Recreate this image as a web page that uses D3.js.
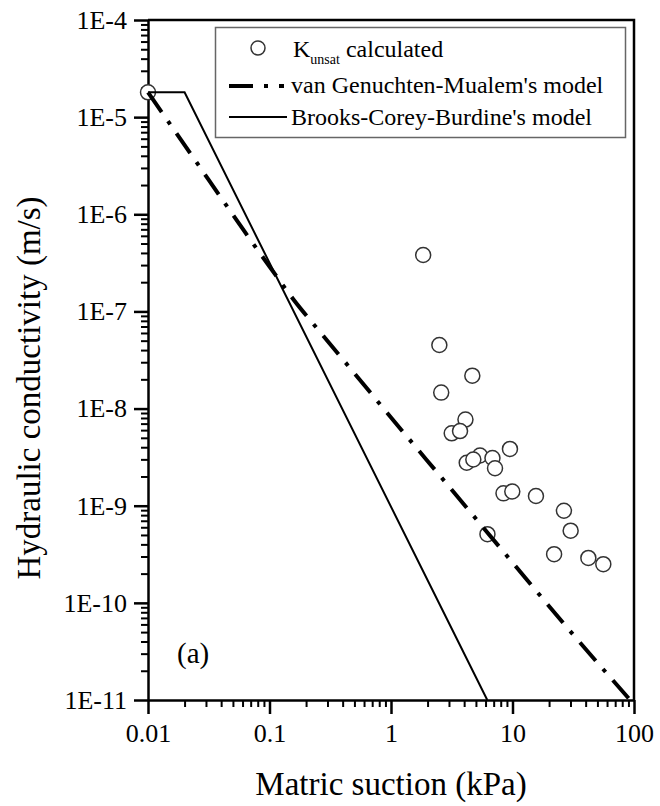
<!DOCTYPE html>
<html>
<head>
<meta charset="utf-8">
<script src="https://cdn.jsdelivr.net/npm/d3@7/dist/d3.min.js"></script>
<style>
  body{margin:0;background:#fff;}
  svg text{font-family:"Liberation Serif","Times New Roman",serif;fill:#000;}
</style>
</head>
<body>
<div id="chart"></div>
<script>
// measured points (matric suction kPa, K m/s)
var suction = [0.01,1.84,2.50,4.67,2.59,4.10,3.16,3.70,4.20,5.40,4.76,6.84,7.18,9.53,8.43,9.96,15.6,26.5,30.1,6.22,22.0,42.1,55.9];
var kUnsat  = [1.8e-5,3.81e-7,4.51e-8,2.18e-8,1.46e-8,7.71e-9,5.56e-9,5.87e-9,2.77e-9,3.29e-9,2.99e-9,3.10e-9,2.43e-9,3.84e-9,1.34e-9,1.40e-9,1.26e-9,8.87e-10,5.53e-10,5.09e-10,3.17e-10,2.90e-10,2.50e-10];

// van Genuchten-Mualem curve
var vgSuction = [0.01,0.0316,0.0631,0.1,0.158,0.251,0.501,1,3.16,10,31.6,93];
var vgK       = [1.8e-5,2.26e-6,6.5e-7,2.9e-7,1.32e-7,6.5e-8,2.3e-8,8.1e-9,1.46e-9,2.6e-10,4.7e-11,1e-11];

// Brooks-Corey-Burdine curve
var bcSuction = [0.01,0.02,6.2];
var bcK       = [1.8e-5,1.8e-5,1e-11];

var xTicks = [0.01,0.1,1,10,100];
var xTickLabels = ["0.01","0.1","1","10","100"];
var yTicks = [1e-4,1e-5,1e-6,1e-7,1e-8,1e-9,1e-10,1e-11];
var yTickLabels = ["1E-4","1E-5","1E-6","1E-7","1E-8","1E-9","1E-10","1E-11"];

var legendNames = ["calculated","van Genuchten-Mualem's model","Brooks-Corey-Burdine's model"];

var W = 660, H = 806;
var pL = 148, pR = 634, pT = 20, pB = 700;

var svg = d3.select("#chart")
  .append("svg")
  .attr("width",W)
  .attr("height",H);

var x = d3.scaleLog().domain([0.01,100]).range([pL,pR]);
var y = d3.scaleLog().domain([1e-11,1e-4]).range([pB,pT]);

function minors(majors){
  var m = [];
  majors.forEach(function(d){
    for(var k=2;k<10;k++){ m.push(d*k); }
  });
  return m;
}
var xMinor = minors(xTicks.slice(0,-1));
var yMinor = minors(yTicks.slice(1));

// minor ticks
svg.append("g")
  .attr("transform","translate(0,"+pB+")")
  .call(d3.axisBottom(x).tickValues(xMinor).tickSize(7).tickFormat(""))
  .call(function(g){ g.select(".domain").remove(); g.selectAll("line").attr("stroke-width",2); });

svg.append("g")
  .attr("transform","translate("+pL+",0)")
  .call(d3.axisLeft(y).tickValues(yMinor).tickSize(7).tickFormat(""))
  .call(function(g){ g.select(".domain").remove(); g.selectAll("line").attr("stroke-width",2); });

// major ticks + labels
var xAxis = svg.append("g")
  .attr("transform","translate(0,"+pB+")")
  .call(d3.axisBottom(x).tickValues(xTicks).tickSize(14).tickSizeOuter(0).tickPadding(10)
    .tickFormat(function(d,i){ return xTickLabels[i]; }));
xAxis.select(".domain").attr("stroke-width",2.5);
xAxis.selectAll("line").attr("stroke-width",2.5);
xAxis.selectAll("text").style("font-size","26px");

var yAxis = svg.append("g")
  .attr("transform","translate("+pL+",0)")
  .call(d3.axisLeft(y).tickValues(yTicks).tickSize(14).tickSizeOuter(0).tickPadding(7)
    .tickFormat(function(d,i){ return yTickLabels[i]; }));
yAxis.select(".domain").attr("stroke-width",2.5);
yAxis.selectAll("line").attr("stroke-width",2.5);
yAxis.selectAll("text").style("font-size","26px");

// top and right border
svg.append("path")
  .attr("d","M"+pL+","+pT+"H"+pR+"V"+pB)
  .attr("fill","none")
  .attr("stroke","#000")
  .attr("stroke-width",2.5);

// measured points
svg.append("g")
  .selectAll("circle")
  .data(suction)
  .enter()
  .append("circle")
  .attr("cx",function(d){ return x(d); })
  .attr("cy",function(d,i){ return y(kUnsat[i]); })
  .attr("r",7.5)
  .attr("fill","#fff")
  .attr("stroke","#333")
  .attr("stroke-width",1.5);

var line = d3.line()
  .x(function(d){ return x(d[0]); })
  .y(function(d){ return y(d[1]); });

svg.append("path")
  .attr("d",line(bcSuction.map(function(d,i){ return [d,bcK[i]]; })))
  .attr("fill","none")
  .attr("stroke","#000")
  .attr("stroke-width",2);

svg.append("path")
  .attr("d",line.curve(d3.curveMonotoneX)(vgSuction.map(function(d,i){ return [d,vgK[i]]; })))
  .attr("fill","none")
  .attr("stroke","#000")
  .attr("stroke-width",4)
  .attr("stroke-dasharray","24,11,4,11");

// legend
var lg = svg.append("g");
lg.append("rect")
  .attr("x",215.5)
  .attr("y",27.5)
  .attr("width",410)
  .attr("height",110)
  .attr("fill","#fff")
  .attr("stroke","#666")
  .attr("stroke-width",1.5);

lg.append("circle")
  .attr("cx",258)
  .attr("cy",48)
  .attr("r",7)
  .attr("fill","#fff")
  .attr("stroke","#333")
  .attr("stroke-width",1.5);

var t0 = lg.append("text")
  .attr("x",293)
  .attr("y",57)
  .style("font-size","24px");
t0.append("tspan").text("K");
t0.append("tspan").attr("dy",7).style("font-size","14px").text("unsat");
t0.append("tspan").attr("dy",-7).text(" " + legendNames[0]);

lg.append("line")
  .attr("x1",229).attr("x2",284)
  .attr("y1",86).attr("y2",86)
  .attr("stroke","#000")
  .attr("stroke-width",4)
  .attr("stroke-dasharray","24,11,4,11");
lg.append("text")
  .attr("x",291)
  .attr("y",93)
  .style("font-size","24px")
  .text(legendNames[1]);

lg.append("line")
  .attr("x1",229).attr("x2",287)
  .attr("y1",117).attr("y2",117)
  .attr("stroke","#000")
  .attr("stroke-width",2);
lg.append("text")
  .attr("x",291)
  .attr("y",125)
  .style("font-size","24px")
  .text(legendNames[2]);

// panel label
svg.append("text")
  .attr("x",177)
  .attr("y",663)
  .style("font-size","29px")
  .text("(a)");

// axis titles
svg.append("text")
  .attr("x",(pL+pR)/2)
  .attr("y",795)
  .attr("text-anchor","middle")
  .style("font-size","33px")
  .text("Matric suction (kPa)");

svg.append("text")
  .attr("transform","translate(40,"+388+") rotate(-90)")
  .attr("text-anchor","middle")
  .style("font-size","33px")
  .text("Hydraulic conductivity (m/s)");
</script>
</body>
</html>
